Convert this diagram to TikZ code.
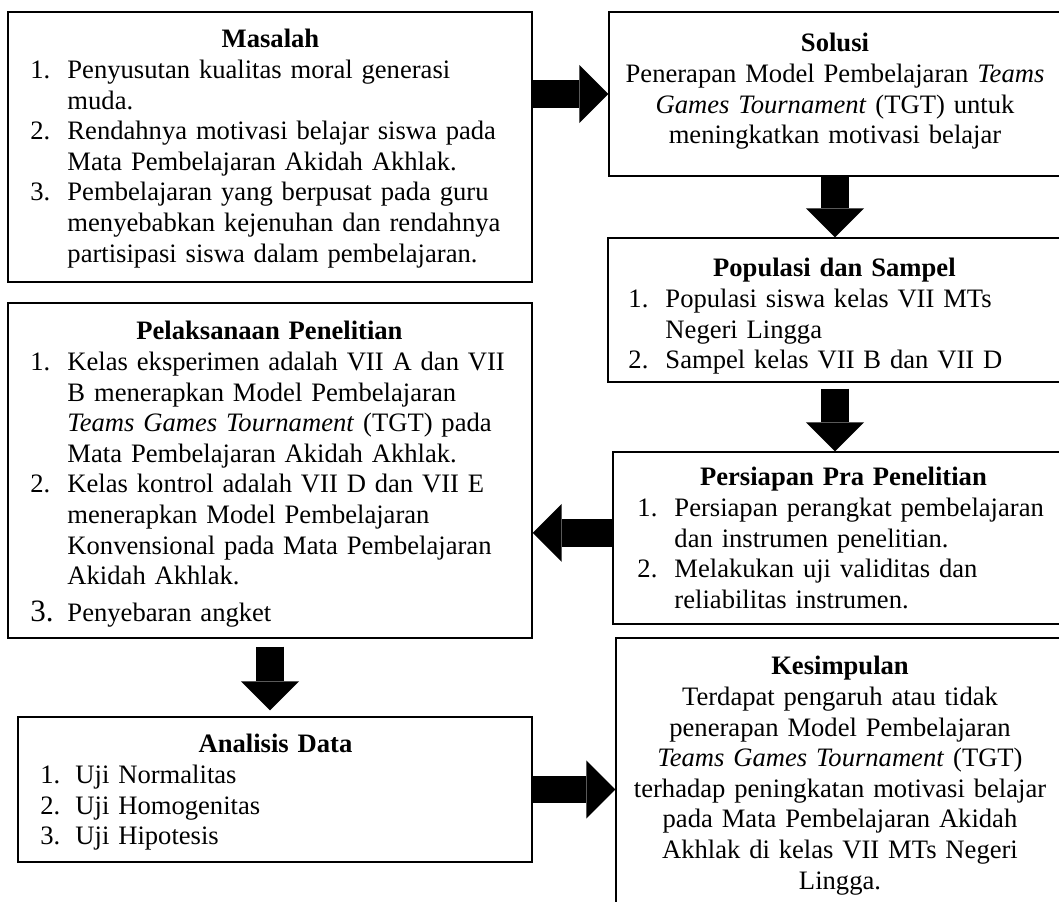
\documentclass[tikz,border=0pt]{standalone}
\usepackage{fontspec}
\setmainfont{Liberation Serif}
\usetikzlibrary{arrows.meta, positioning, fit}

\newcommand{\butir}[3][16.7pt]{\par\hangindent=#1\hangafter=1\noindent\makebox[#1][l]{#2}#3\par}

\tikzset
{
kotak/.style={draw, line width=0.6pt, inner sep=0pt, fit={#1}},
isi/.style={inner sep=0pt, anchor=north west, align=left, text width=#1,
	font=\fontsize{12pt}{13.8pt}\selectfont},
isitengah/.style={inner sep=0pt, anchor=north, align=center, text width=#1,
	font=\fontsize{12pt}{13.8pt}\selectfont},
panah/.style={line width=12.6pt, -{Triangle[length=13.1pt, width=26.2pt, line width=0pt]}}
}

\begin{document}
\begin{tikzpicture}[x=0.451pt, y=-0.451pt]
		\useasboundingbox (0,0) rectangle (1059,901);

		% kiri
		\node[kotak={(8,12) (532,282)}] (masalah) {};
		\node[isi=216.5pt] (masalahIsi) at (30,29) {%
			{\centering\textbf{Masalah}\par}
			\butir{1.}{Penyusutan kualitas moral generasi\newline muda.}
			\butir{2.}{Rendahnya motivasi belajar siswa pada\newline Mata Pembelajaran Akidah Akhlak.}
			\butir{3.}{Pembelajaran yang berpusat pada guru\newline menyebabkan kejenuhan dan rendahnya\newline partisipasi siswa dalam pembelajaran.}};

		\node[kotak={(8,303) (532,638)}] (pelaksanaan) {};
		\node[isi=215.6pt] (pelaksanaanIsi) at (30,321) {%
			{\centering\textbf{Pelaksanaan Penelitian}\par}
			\butir{1.}{Kelas eksperimen adalah VII A dan VII\newline B menerapkan Model Pembelajaran\newline \textit{Teams Games Tournament} (TGT) pada\newline Mata Pembelajaran Akidah Akhlak.}
			\butir{2.}{Kelas kontrol adalah VII D dan VII E\newline menerapkan Model Pembelajaran\newline Konvensional pada Mata Pembelajaran\newline Akidah Akhlak.}
			\vspace{2.9pt}
			\butir{{\fontsize{14pt}{16pt}\selectfont 3.}}{Penyebaran angket}};

		\node[kotak={(18,717) (532,862)}] (analisis) {};
		\node[isi=212pt] (analisisIsi) at (40,734) {%
			{\centering\textbf{Analisis Data}\par}
			\butir[15.8pt]{1.}{Uji Normalitas}
			\butir[15.8pt]{2.}{Uji Homogenitas}
			\butir[15.8pt]{3.}{Uji Hipotesis}};

		% kanan (sisi kanan terpotong)
		\node[kotak={(609,12) (1070,176)}] (solusi) {};
		\node[isitengah=198.4pt] (solusiIsi) at (835,33) {%
			\textbf{Solusi}\\
			Penerapan Model Pembelajaran \textit{Teams}\\
			\textit{Games Tournament} (TGT) untuk\\
			meningkatkan motivasi belajar};

		\node[kotak={(608,238) (1070,382)}] (populasi) {};
		\node[isi=185.8pt] (populasiIsi) at (628,258) {%
			{\centering\textbf{Populasi dan Sampel}\par}
			\butir{1.}{Populasi siswa kelas VII MTs\newline Negeri Lingga}
			\butir{2.}{Sampel kelas VII B dan VII D}};

		\node[kotak={(613,452) (1070,624)}] (persiapan) {};
		\node[isi=185.8pt] (persiapanIsi) at (637,467) {%
			{\centering\textbf{Persiapan Pra Penelitian}\par}
			\butir{1.}{Persiapan perangkat pembelajaran\newline dan instrumen penelitian.}
			\butir{2.}{Melakukan uji validitas dan\newline reliabilitas instrumen.}};

		\node[kotak={(616,638) (1070,940)}] (kesimpulan) {};
		\node[isitengah=194pt] (kesimpulanIsi) at (840,656) {%
			\textbf{Kesimpulan}\\
			Terdapat pengaruh atau tidak\\
			penerapan Model Pembelajaran\\
			\textit{Teams Games Tournament} (TGT)\\
			terhadap peningkatan motivasi belajar\\
			pada Mata Pembelajaran Akidah\\
			Akhlak di kelas VII MTs Negeri\\
			Lingga.};

		\path[panah] (masalah.east |- solusi.west) edge (solusi.west)
		(solusiIsi.south |- solusi.south) edge (solusiIsi.south |- populasi.north)
		(solusiIsi.south |- populasi.south) edge[shorten <=2.7pt] (solusiIsi.south |- persiapan.north)
		([yshift=2.3pt]persiapan.west) edge ([yshift=2.3pt]persiapan.west -| pelaksanaan.east)
		(pelaksanaan.south) edge[shorten <=3.6pt, shorten >=2.7pt] (pelaksanaan.south |- analisis.north)
		(analisis.east) edge (analisis.east -| kesimpulan.west);
\end{tikzpicture}
\end{document}
